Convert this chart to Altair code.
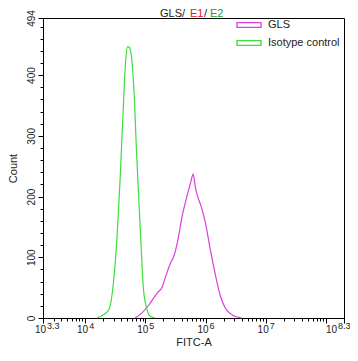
import altair as alt
import pandas as pd

# ---- data ----
series_names = ["GLS", "Isotype control"]
series_colors = ["#dd3ddd", "#3ddd3d"]

gls_log = [4.83, 4.94, 5.055, 5.195, 5.28, 5.33, 5.417, 5.47, 5.54, 5.61, 5.69, 5.75,
           5.795, 5.83, 5.86, 5.93, 6.0, 6.08, 6.17, 6.25, 6.33, 6.445, 6.55, 6.6]
gls_count = [0, 8, 21, 41, 51, 66, 90, 101, 128, 167, 200, 222,
             237, 216, 203, 183, 156, 112, 68, 35, 16, 5, 1, 0]

iso_log = [4.195, 4.39, 4.47, 4.53, 4.58, 4.63, 4.67, 4.705, 4.74, 4.78, 4.817,
           4.85, 4.89, 4.93, 4.97, 5.03, 5.08, 5.17]
iso_count = [0, 13, 58, 134, 227, 338, 420, 447, 445, 420, 364,
             282, 199, 117, 46, 13, 3, 0]

x_exponents = [3.3, 4, 5, 6, 7]
x_label_exps = ["3.3", "4", "5", "6", "7"]
x_last_exponent = 8.3
x_last_label = "8.3"
y_ticks = list(range(0, 481, 20)) + [494]

rows = []
for e, c in zip(gls_log, gls_count):
    rows.append({"fitc": 10 ** e, "count": c, "series": "GLS"})
for e, c in zip(iso_log, iso_count):
    rows.append({"fitc": 10 ** e, "count": c, "series": "Isotype control"})
df = pd.DataFrame(rows)

# x tick values (major + minor log ticks)
x_ticks = [10 ** 3.3]
for d in range(3, 9):
    for m in range(1, 10):
        v = m * 10 ** d
        if 10 ** 3.3 < v < 10 ** 8.3:
            x_ticks.append(v)
x_ticks.append(10 ** 8.3)

major_test = ("abs(log(datum.value)/LN10 - round(log(datum.value)/LN10)) < 0.001"
              " || datum.value < 2000 || datum.value > 1.9e8")

FONT = "Liberation Sans"

x_scale = alt.Scale(type="log", domain=[10 ** 3.3, 10 ** 8.3], nice=False)
y_scale = alt.Scale(domain=[0, 494], nice=False)

lines = alt.Chart(df).mark_line(strokeWidth=1.2, interpolate="monotone").encode(
    x=alt.X("fitc:Q", scale=x_scale,
            axis=alt.Axis(values=x_ticks, labels=False, grid=False, title="FITC-A",
                          tickSize={"condition": {"test": major_test, "value": 5}, "value": 3},
                          tickColor="black", domainColor="black",
                          titleFont=FONT, titleFontSize=11, titleFontWeight="normal",
                          titlePadding=13, titleColor="#222")),
    y=alt.Y("count:Q", scale=y_scale,
            axis=alt.Axis(values=y_ticks, grid=False, title="Count",
                          labelExpr="(datum.value % 100 == 0 || datum.value == 494) ? datum.value : ''",
                          tickSize={"condition": {"test": "datum.value % 100 == 0 || datum.value == 494", "value": 5}, "value": 3},
                          labelAngle=-90, labelAlign="center", labelBaseline="bottom",
                          labelPadding=2, labelOverlap=False, labelFlush=False,
                          labelFont=FONT, labelFontSize=10, labelColor="#222",
                          tickColor="black", domainColor="black",
                          titleFont=FONT, titleFontSize=11, titleFontWeight="normal",
                          titlePadding=8, titleColor="#222")),
    color=alt.Color("series:N",
                    scale=alt.Scale(domain=series_names, range=series_colors),
                    legend=alt.Legend(title=None, orient="none", legendX=193, legendY=-6,
                                      symbolType="M-1,-0.2H1V0.2H-1Z", symbolSize=576,
                                      symbolStrokeWidth=1.3, symbolFillColor="transparent",
                                      labelFont=FONT, labelFontSize=11, labelColor="#222",
                                      labelOffset=6, rowPadding=0, padding=0)),
)

# x tick labels: "10" + raised exponent
lab_df = pd.DataFrame({"v": [10 ** e for e in x_exponents], "exp": x_label_exps})
base_lbl = alt.Chart(lab_df).mark_text(align="right", baseline="alphabetic", dx=3,
                                       font=FONT, fontSize=10, color="#222").encode(
    x=alt.X("v:Q", scale=x_scale), y=alt.value(315), text=alt.value("10"))
exp_lbl = alt.Chart(lab_df).mark_text(align="left", baseline="alphabetic", dx=4,
                                      font=FONT, fontSize=9, color="#222").encode(
    x=alt.X("v:Q", scale=x_scale), y=alt.value(311), text="exp:N")

last_df = pd.DataFrame({"v": [10 ** x_last_exponent], "exp": [x_last_label]})
last_base = alt.Chart(last_df).mark_text(align="right", baseline="alphabetic", dx=-7,
                                         font=FONT, fontSize=10, color="#222").encode(
    x=alt.X("v:Q", scale=x_scale), y=alt.value(315), text=alt.value("10"))
last_exp = alt.Chart(last_df).mark_text(align="left", baseline="alphabetic", dx=-6,
                                        font=FONT, fontSize=9, color="#222").encode(
    x=alt.X("v:Q", scale=x_scale), y=alt.value(311), text="exp:N")

# coloured title parts
title_df = pd.DataFrame({"t": ["GLS", "/", "E1", "/", "E2"],
                         "px": [117, 139, 147, 161, 167],
                         "c": ["#222222", "#222222", "#e02020", "#222222", "#22a022"]})
title_txt = alt.Chart(title_df).mark_text(align="left", baseline="alphabetic",
                                          font=FONT, fontSize=11).encode(
    x=alt.X("px:Q", scale=None), y=alt.value(-1.5), text="t:N",
    color=alt.Color("c:N", scale=None, legend=None))

chart = alt.layer(lines, base_lbl, exp_lbl, last_base, last_exp, title_txt).resolve_scale(
    color="independent").properties(
    width=301, height=300,
    autosize=alt.AutoSizeParams(type="none"),
    padding={"left": 35, "top": 10, "right": 6, "bottom": 32},
).configure_view(stroke="black", strokeWidth=1)

chart.save("out.html", embed_options={"renderer": "svg", "actions": False})
